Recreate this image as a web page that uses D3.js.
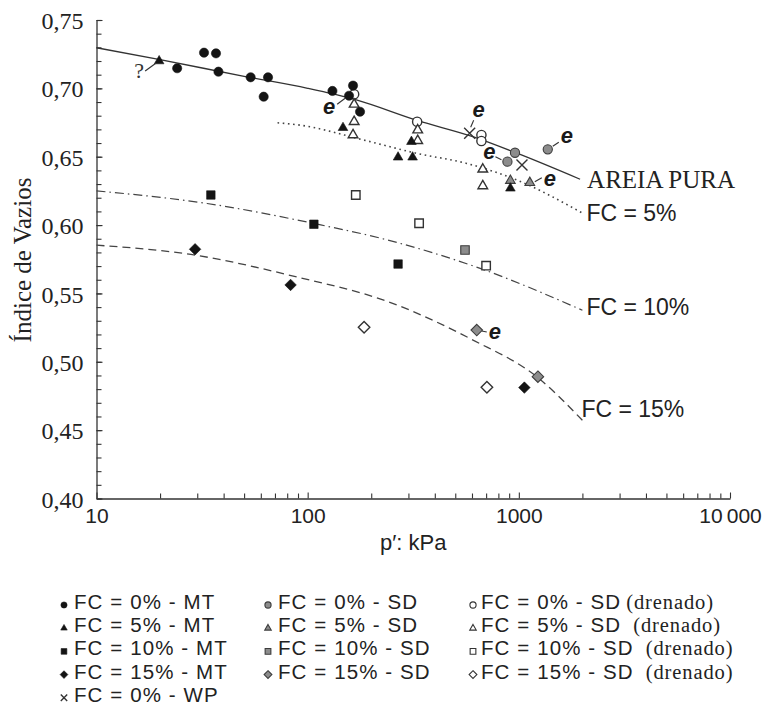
<!DOCTYPE html>
<html>
<head>
<meta charset="utf-8">
<script src="https://cdn.jsdelivr.net/npm/d3@7"></script>
<style>
  body { margin: 0; background: #fff; }
</style>
</head>
<body>
<svg id="svg-main" width="765" height="710"></svg>
<script>
const SANS = "'Liberation Sans', Arial, Helvetica, sans-serif";
const SERIF = "'Liberation Serif', 'Times New Roman', serif";

// axis ticks
const yTicks = [0.40, 0.45, 0.50, 0.55, 0.60, 0.65, 0.70, 0.75];
const yTickLabels = ["0,40", "0,45", "0,50", "0,55", "0,60", "0,65", "0,70", "0,75"];
const xTicks = [10, 100, 1000, 10000];
const xTickLabels = ["10", "100", "1000", "10\u2009000"];

// points [p' (kPa), void ratio]
const fc0MT = [[24.1, 0.7147], [32.3, 0.7261], [36.8, 0.7256], [37.8, 0.7122], [53.7, 0.7081],
               [64.9, 0.7081], [61.9, 0.6939], [131, 0.6981], [164, 0.7020], [157, 0.6946], [177, 0.6829]];
const fc0SD = [[959, 0.6529], [883, 0.6464], [1371, 0.6554]];
const fc0SDd = [[166, 0.6957], [330, 0.6756], [665, 0.6659], [665, 0.6615]];
const fc5MT = [[19.8, 0.7200], [147, 0.6712], [310, 0.6610], [268, 0.6496], [314, 0.6496], [912, 0.6269]];
const fc5SD = [[912, 0.6325], [1127, 0.6310]];
const fc5SDd = [[166, 0.6883], [166, 0.6756], [164, 0.6659], [332, 0.6695], [332, 0.6617], [675, 0.6408], [675, 0.6286]];
const fc10MT = [[34.8, 0.6220], [107, 0.6006], [268, 0.5715]];
const fc10SD = [[556, 0.5818]];
const fc10SDd = [[169, 0.6220], [337, 0.6013], [700, 0.5703]];
const fc15MT = [[29.3, 0.5823], [83, 0.5562], [1062, 0.4811]];
const fc15SD = [[632, 0.5232], [1231, 0.4891]];
const fc15SDd = [[185, 0.5252], [706, 0.4813]];
const fc0WP = [[585, 0.6671], [1035, 0.6439]];

// trend curves
const curveAreia = [[10, 0.7297], [20, 0.7210], [50, 0.7088], [100, 0.7000], [170, 0.6915],
                    [330, 0.6765], [610, 0.6645], [1000, 0.6520], [1950, 0.6335]];
const curveFc5 = [[72, 0.6748], [92, 0.6731], [184, 0.6622], [330, 0.6524], [566, 0.6451], [980, 0.6329], [2000, 0.6088]];
const curveFc10 = [[10, 0.6250], [33.4, 0.6158], [106.7, 0.6012], [240, 0.5890], [656, 0.5683], [2000, 0.5377]];
const curveFc15 = [[10, 0.5853], [28, 0.5785], [89, 0.5620], [240, 0.5440], [610, 0.5157], [1220, 0.4889], [2000, 0.4572]];
const curveNames = ["AREIA PURA", "FC = 5%", "FC = 10%", "FC = 15%"];

// "e" notes anchored on points, and the "?" note
const eNotes = [[166, 0.6957], [585, 0.6671], [883, 0.6464], [1371, 0.6554], [1127, 0.6310], [632, 0.5232]];
const qNote = [19.8, 0.7200];

// legend labels
const legendMT = ["FC = 0% - MT", "FC = 5% - MT", "FC = 10% - MT", "FC = 15% - MT", "FC = 0% - WP"];
const legendSD = ["FC = 0% - SD", "FC = 5% - SD", "FC = 10% - SD", "FC = 15% - SD"];
const legendSDd = ["FC = 0% - SD", "FC = 5% - SD", "FC = 10% - SD", "FC = 15% - SD"];

var Dims = {
    Left: 96.5, Right: 730, Top: 20, Bottom: 498.5
};

var svg = d3.select("#svg-main");

var x = d3.scaleLog().domain([10, 10000]).range([Dims.Left, Dims.Right]);
var y = d3.scaleLinear().domain([0.40, 0.75]).range([Dims.Bottom, Dims.Top]);

const shapes = ["circle", "triangle", "square", "diamond"];
const seriesTable = [
    { pts: fc0MT, shape: "circle", style: "black" },
    { pts: fc5MT, shape: "triangle", style: "black" },
    { pts: fc10MT, shape: "square", style: "black" },
    { pts: fc15MT, shape: "diamond", style: "black" },
    { pts: fc0SD, shape: "circle", style: "gray" },
    { pts: fc5SD, shape: "triangle", style: "gray" },
    { pts: fc10SD, shape: "square", style: "gray" },
    { pts: fc15SD, shape: "diamond", style: "gray" },
    { pts: fc0SDd, shape: "circle", style: "open" },
    { pts: fc5SDd, shape: "triangle", style: "open" },
    { pts: fc10SDd, shape: "square", style: "open" },
    { pts: fc15SDd, shape: "diamond", style: "open" },
    { pts: fc0WP, shape: "x", style: "x" }
];

drawAxes();
drawCurves();
drawPoints();
drawNotes();
drawLegend();

function drawAxes() {
    var g = svg.append("g").attr("class", "axes");

    // y axis, ticks inward
    var yMinor = d3.range(40, 76).map(d => d / 100);
    g.append("g")
        .attr("transform", `translate(${Dims.Left},0)`)
        .call(d3.axisLeft(y).tickValues(yMinor).tickSize(-5).tickSizeOuter(0).tickFormat(""))
        .call(a => a.select(".domain").remove());
    var yAx = g.append("g")
        .attr("transform", `translate(${Dims.Left},0)`)
        .call(d3.axisLeft(y).tickValues(yTicks).tickSize(-6).tickSizeOuter(0).tickPadding(13)
            .tickFormat((d, i) => yTickLabels[i]));
    yAx.selectAll("text").attr("font-family", SERIF).attr("font-size", 24).attr("fill", "#222").attr("dy", "0.36em");

    // x axis, ticks inward
    var xMinor = [];
    [10, 100, 1000].forEach(dec => d3.range(2, 10).forEach(k => xMinor.push(dec * k)));
    g.append("g")
        .attr("transform", `translate(0,${Dims.Bottom})`)
        .call(d3.axisBottom(x).tickValues(xMinor).tickSize(-5).tickSizeOuter(0).tickFormat(""))
        .call(a => a.select(".domain").remove());
    var xAx = g.append("g")
        .attr("transform", `translate(0,${Dims.Bottom})`)
        .call(d3.axisBottom(x).tickValues(xTicks).tickSize(-6).tickSizeOuter(0).tickPadding(10)
            .tickFormat((d, i) => xTickLabels[i]));
    xAx.selectAll("text").attr("font-family", SANS).attr("font-size", 21).attr("fill", "#222");

    g.selectAll("path.domain").attr("stroke", "#333").attr("stroke-width", 1.3);
    g.selectAll(".tick line").attr("stroke", "#333").attr("stroke-width", 1.1);

    // axis titles
    svg.append("text")
        .attr("x", 380).attr("y", 550)
        .attr("font-family", SANS).attr("font-size", 22).attr("fill", "#222")
        .text("p\u2032: kPa");
    svg.append("text")
        .attr("transform", "translate(31,260) rotate(-90)")
        .attr("text-anchor", "middle")
        .attr("font-family", SERIF).attr("font-size", 25).attr("fill", "#222")
        .text("Índice de Vazios");
}

function drawCurves() {
    var line = d3.line()
        .x(d => x(d[0]))
        .y(d => y(d[1]))
        .curve(d3.curveMonotoneX);

    var styles = [
        { dash: null, color: "#333", w: 1.3 },
        { dash: "1.6,3.6", color: "#444", w: 1.6 },
        { dash: "9,4,1.5,4", color: "#444", w: 1.2 },
        { dash: "8,5", color: "#444", w: 1.3 }
    ];
    var labelOffsets = [[7, 8.5], [4, 8], [4, 5], [-1, -3]];
    var fonts = [SERIF, SANS, SANS, SANS];
    var sizes = [25, 23, 23, 23];

    [curveAreia, curveFc5, curveFc10, curveFc15].forEach(function (c, i) {
        svg.append("path")
            .datum(c)
            .attr("d", line)
            .attr("fill", "none")
            .attr("stroke", styles[i].color)
            .attr("stroke-width", styles[i].w)
            .attr("stroke-dasharray", styles[i].dash);

        var last = c[c.length - 1];
        svg.append("text")
            .attr("x", x(last[0]) + labelOffsets[i][0])
            .attr("y", y(last[1]) + labelOffsets[i][1])
            .attr("font-family", fonts[i]).attr("font-size", sizes[i]).attr("fill", "#222")
            .text(curveNames[i]);
    });
}

function markerPath(shape, r) {
    if (shape === "circle") return d3.symbol(d3.symbolCircle, Math.PI * r * r)();
    if (shape === "triangle") return d3.symbol(d3.symbolTriangle, r * r * 1.9)();
    if (shape === "square") return d3.symbol(d3.symbolSquare, r * r * 3.4)();
    if (shape === "diamond") {
        var s = r * 1.25;
        return `M0,${-s}L${s},0L0,${s}L${-s},0Z`;
    }
    return `M${-r},${-r}L${r},${r}M${-r},${r}L${r},${-r}`;
}

function applyStyle(sel, style) {
    if (style === "black") sel.attr("fill", "#141414").attr("stroke", "#141414").attr("stroke-width", 0.6);
    else if (style === "gray") sel.attr("fill", "#8c8c8c").attr("stroke", "#3c3c3c").attr("stroke-width", 1.1);
    else if (style === "open") sel.attr("fill", "#fff").attr("stroke", "#333").attr("stroke-width", 1.4);
    else sel.attr("fill", "none").attr("stroke", "#333").attr("stroke-width", 1.4);
}

function drawPoints() {
    var g = svg.append("g").attr("class", "points");
    var order = [8, 9, 10, 11, 4, 5, 6, 7, 0, 1, 2, 3, 12];
    order.forEach(function (k) {
        var s = seriesTable[k];
        var sel = g.selectAll(null)
            .data(s.pts)
            .enter()
            .append("path")
            .attr("transform", d => `translate(${x(d[0])},${y(d[1])})`)
            .attr("d", markerPath(s.shape, s.shape === "x" ? 5.5 : 4.6));
        applyStyle(sel, s.style);
    });
}

function drawNotes() {
    var g = svg.append("g").attr("class", "notes");
    // [label dx, dy, line from dx, dy, line to dx, dy] relative to anchor point
    var offs = [
        [-25, 13, -9, 4, -17, 10],
        [9, -23, 1, -6, 4, -13],
        [-18, -9, -6, -2, -12, -5],
        [19, -13, 5, -3, 11, -7],
        [20, -3, 5, -1, 12, -5],
        [18, 2, 5, 1, 10, 2]
    ];
    eNotes.forEach(function (p, i) {
        var px = x(p[0]), py = y(p[1]), o = offs[i];
        g.append("line")
            .attr("x1", px + o[2]).attr("y1", py + o[3])
            .attr("x2", px + o[4]).attr("y2", py + o[5])
            .attr("stroke", "#333").attr("stroke-width", 1.1);
        g.append("text")
            .attr("x", px + o[0]).attr("y", py + o[1])
            .attr("dy", "0.3em")
            .attr("text-anchor", "middle")
            .attr("font-family", SANS).attr("font-size", 22)
            .attr("font-weight", "bold").attr("font-style", "italic")
            .attr("fill", "#1a1a1a")
            .text("e");
    });

    var qx = x(qNote[0]), qy = y(qNote[1]);
    g.append("line")
        .attr("x1", qx - 14).attr("y1", qy + 10)
        .attr("x2", qx - 3).attr("y2", qy + 2)
        .attr("stroke", "#333").attr("stroke-width", 1.1);
    g.append("text")
        .attr("x", qx - 20).attr("y", qy + 9)
        .attr("dy", "0.35em")
        .attr("text-anchor", "middle")
        .attr("font-family", SERIF).attr("font-size", 22)
        .attr("fill", "#333")
        .text("?");
}

function drawLegend() {
    var g = svg.append("g").attr("class", "legend");
    var rowY = d => 609 + d * 23.2;
    var cols = [
        { mx: 64, tx: 74, labels: legendMT, style: "black" },
        { mx: 268, tx: 278, labels: legendSD, style: "gray" },
        { mx: 473, tx: 481, labels: legendSDd, style: "open" }
    ];
    var extraGap = [5, 12, 12, 12];

    cols.forEach(function (c, ci) {
        c.labels.forEach(function (lab, i) {
            var shape = (ci === 0 && i === 4) ? "x" : shapes[i];
            var style = shape === "x" ? "x" : c.style;
            var m = g.append("path")
                .attr("transform", `translate(${c.mx},${rowY(i) - 4})`)
                .attr("d", markerPath(shape, shape === "x" ? 3.2 : 3.1));
            applyStyle(m, style);
            if (style === "open") m.attr("stroke-width", 1.1);

            var t = g.append("text")
                .attr("x", c.tx).attr("y", rowY(i))
                .attr("font-family", SANS).attr("font-size", 20.5)
                .attr("letter-spacing", 1.1).attr("fill", "#222");
            t.append("tspan").text(lab);
            if (ci === 2) {
                t.append("tspan")
                    .attr("dx", extraGap[i])
                    .attr("font-family", SERIF).attr("font-size", 20.5)
                    .attr("letter-spacing", 0.9)
                    .text("(drenado)");
            }
        });
    });
}
</script>
</body>
</html>
